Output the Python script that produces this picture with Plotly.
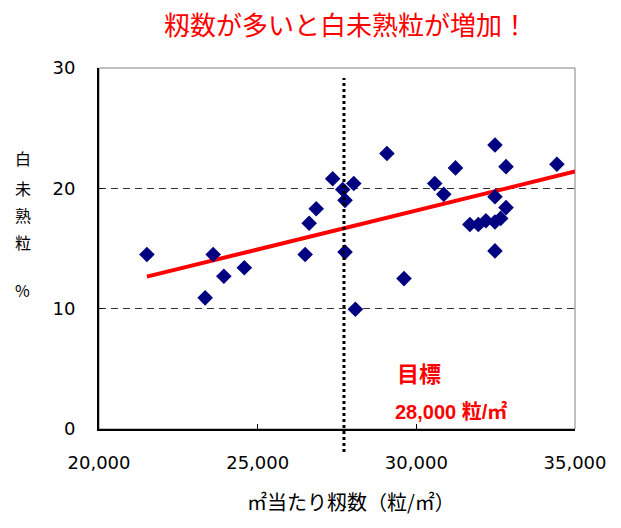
import plotly.graph_objects as go

# Data
spikelets = [21509, 23345, 23598, 23934, 24579, 26497, 26623, 26845, 27364, 27680,
             27753, 27753, 28028, 28079, 29073, 29611, 30579, 30864, 31234, 31687,
             31953, 32193, 32478, 32658, 32826, 32478, 32826, 32478, 32478, 34430]
chalky_pct = [14.5, 10.9, 14.5, 12.7, 13.4, 14.5, 17.1, 18.3, 20.8, 19.9,
              19.0, 14.7, 20.4, 9.95, 22.9, 12.5, 20.4, 19.5, 21.7, 17.0,
              17.0, 17.3, 17.2, 17.5, 18.4, 23.6, 21.8, 19.3, 14.8, 22.0]

trend_x = [21509, 35000]
trend_y = [12.66, 21.4]

target_x = 27720  # vertical dotted line (目標 28,000粒/㎡)

x_ticks = [20000, 25000, 30000, 35000]
x_tick_labels = ["20,000", "25,000", "30,000", "35,000"]
y_ticks = [0, 10, 20, 30]
y_tick_labels = ["0", "10", "20", "30"]

title_text = "籾数が多いと白未熟粒が増加！"
x_title = "㎡当たり籾数（粒/㎡）"
y_title_chars = ["白", "未", "熟", "粒", "%"]
target_label = "目標"
target_value_label = "28,000 粒/㎡"

JP = "Noto Sans CJK JP"
NUM = "DejaVu Sans"

fig = go.Figure()
fig.add_trace(go.Scatter(x=trend_x, y=trend_y, mode="lines",
                         line=dict(color="#ff0000", width=4), showlegend=False,
                         hoverinfo="skip"))
fig.add_trace(go.Scatter(x=spikelets, y=chalky_pct, mode="markers",
                         marker=dict(symbol="diamond", size=12, color="#000080",
                                     line=dict(width=0)),
                         showlegend=False))

# target vertical dotted line
fig.add_shape(type="line", xref="x", yref="paper", x0=target_x, x1=target_x,
              y0=-0.064, y1=0.972, line=dict(color="black", width=3, dash="3px,3px"),
              layer="above")
# plot-area border (top/right)
fig.add_shape(type="rect", xref="paper", yref="paper", x0=0, x1=1, y0=0, y1=1,
              line=dict(color="#808080", width=1), layer="below")

fig.update_layout(
    width=621, height=528,
    margin=dict(l=99, r=46, t=68, b=99),
    paper_bgcolor="white", plot_bgcolor="white",
    xaxis=dict(range=[20000, 35000], tickvals=x_ticks, ticktext=x_tick_labels,
               ticks="inside", ticklen=5, tickcolor="black", tickwidth=1,
               showline=True, linecolor="black", linewidth=2,
               showgrid=False, zeroline=False, automargin=False,
               tickfont=dict(family=NUM, size=18, color="black"),
               ticklabelstandoff=16),
    yaxis=dict(range=[0, 30], tickvals=y_ticks, ticktext=y_tick_labels,
               ticks="inside", ticklen=4, tickcolor="black", tickwidth=1,
               showline=True, linecolor="black", linewidth=2,
               showgrid=True, gridcolor="#333333", gridwidth=1, griddash="7px,5px",
               zeroline=False, automargin=False,
               tickfont=dict(family=NUM, size=18, color="black"),
               ticklabelstandoff=18),
)

annotations = [
    dict(text=title_text, xref="paper", yref="paper", x=0.519, y=1.122,
         showarrow=False, font=dict(family=JP, size=26, color="#ff0000"),
         xanchor="center", yanchor="middle"),
    dict(text=x_title, xref="paper", yref="paper", x=0.529, y=-0.202,
         showarrow=False, font=dict(family=JP, size=20, color="black"),
         xanchor="center", yanchor="middle"),
    dict(text="<b>" + target_label + "</b>", xref="paper", yref="paper", x=0.622, y=0.158,
         showarrow=False, font=dict(family=JP, size=22, color="#ff0000"),
         xanchor="left", yanchor="middle"),
    dict(text="<b>" + target_value_label + "</b>", xref="paper", yref="paper", x=0.618, y=0.047,
         showarrow=False, font=dict(family="Liberation Sans, " + JP, size=20, color="#ff0000"),
         xanchor="left", yanchor="middle"),
]
y_char_pos = [157.7, 187.7, 215, 242, 290]
for ch, py in zip(y_title_chars, y_char_pos):
    annotations.append(dict(text=ch, xref="paper", yref="paper", x=-0.16,
                            y=(429 - py) / 361, showarrow=False,
                            font=dict(family=JP, size=16, color="black"),
                            xanchor="center", yanchor="middle"))
fig.update_layout(annotations=annotations)

fig.write_html("out.html", config={"displayModeBar": False},
               post_script="document.body.style.margin='0';document.body.style.overflow='hidden';")
